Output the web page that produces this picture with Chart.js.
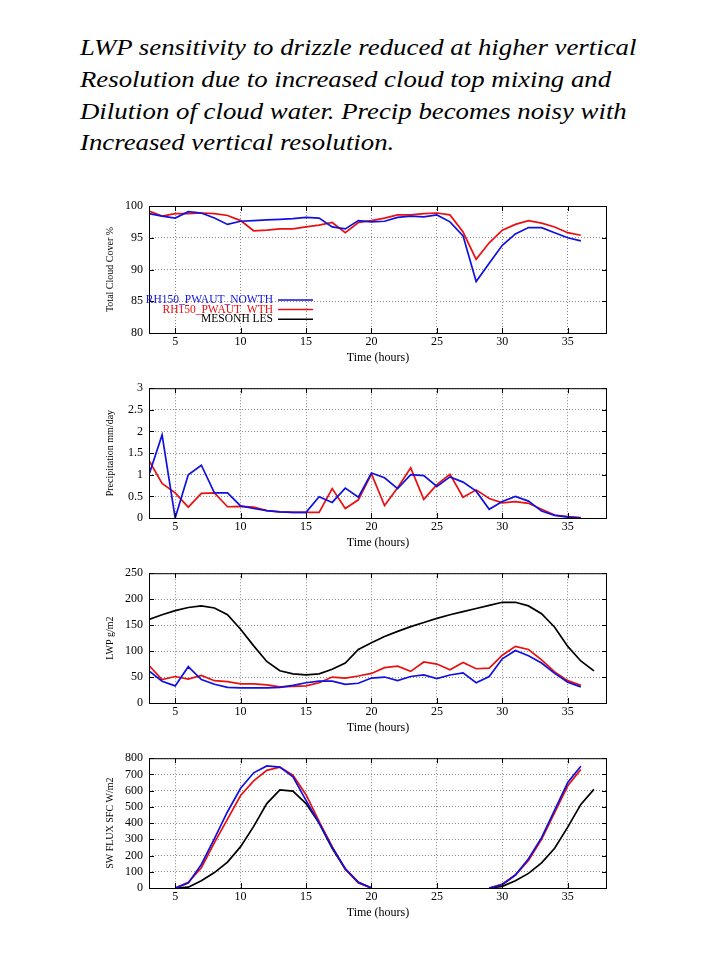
<!DOCTYPE html>
<html>
<head>
<meta charset="utf-8">
<script src="https://cdn.jsdelivr.net/npm/chart.js@4.4.1/dist/chart.umd.min.js"></script>
<style>
  body { margin: 0; background: #fff; width: 720px; height: 960px; position: relative; overflow: hidden; }
  #note { position: absolute; left: 80px; top: 32px; font: italic 23px "Liberation Serif", serif; line-height: 31.8px; color: #000; white-space: nowrap; transform: scaleX(1.165); transform-origin: 0 0; }
  canvas { position: absolute; left: 100px; }
</style>
</head>
<body>
<div id="note">LWP sensitivity to drizzle reduced at higher vertical<br>Resolution due to increased cloud top mixing and<br>Dilution of cloud water. Precip becomes noisy with<br>Increased vertical resolution.</div>
<canvas id="cloud" width="520" height="180" style="top:190px"></canvas>
<canvas id="precip" width="520" height="180" style="top:375px"></canvas>
<canvas id="lwp" width="520" height="180" style="top:560px"></canvas>
<canvas id="sw" width="520" height="180" style="top:745px"></canvas>
<script>
const hours = [3, 4, 5, 6, 7, 8, 9, 10, 11, 12, 13, 14, 15, 16, 17, 18, 19, 20, 21, 22, 23, 24, 25, 26, 27, 28, 29, 30, 31, 32, 33, 34, 35, 36];
const lesHours = [3, 4, 5, 6, 7, 8, 9, 10, 11, 12, 13, 14, 15, 16, 17, 18, 19, 20, 21, 22, 23, 24, 25, 26, 27, 28, 29, 30, 31, 32, 33, 34, 35, 36, 37];
const swHours = [5, 6, 7, 8, 9, 10, 11, 12, 13, 14, 15, 16, 17, 18, 19, 20, 21, 22, 23, 24, 25, 26, 27, 28, 29, 30, 31, 32, 33, 34, 35, 36, 37];
const timeTicks = [5, 10, 15, 20, 25, 30, 35];

const NAMES = ["RH150_PWAUT_NOWTH", "RH150_PWAUT_WTH", "MESONH LES"];

// total cloud cover %
const cloudNowth = [98.8, 98.4, 98.1, 99.1, 98.9, 98.1, 97.1, 97.6, 97.7, 97.8, 97.9, 98.0, 98.2, 98.1, 96.7, 96.4, 97.7, 97.5,
  97.6, 98.2, 98.4, 98.3, 98.6, 97.5, 95.3, 88.1, 91.0, 93.8, 95.6, 96.6, 96.6, 95.8, 95.0, 94.5];
const cloudWth = [99.2, 98.4, 98.8, 98.8, 98.9, 98.8, 98.5, 97.7, 96.1, 96.2, 96.4, 96.4, 96.7, 97.0, 97.4, 95.8, 97.4, 97.7,
  98.1, 98.6, 98.6, 98.8, 98.9, 98.6, 95.9, 91.6, 94.2, 96.2, 97.1, 97.7, 97.3, 96.7, 95.8, 95.4];
const cloudLes = [100, 100, 100, 100, 100, 100, 100, 100, 100, 100, 100, 100, 100, 100, 100, 100, 100, 100,
  100, 100, 100, 100, 100, 100, 100, 100, 100, 100, 100, 100, 100, 100, 100, 100, 100];

// precipitation mm/day
const precipNowth = [1.0, 1.92, 0.0, 1.0, 1.22, 0.58, 0.58, 0.28, 0.22, 0.17, 0.14, 0.13, 0.13, 0.49, 0.36, 0.69, 0.48, 1.04,
  0.93, 0.68, 1.0, 0.98, 0.73, 0.95, 0.83, 0.62, 0.2, 0.38, 0.5, 0.39, 0.16, 0.06, 0.02, 0.0];
const precipWth = [1.33, 0.8, 0.58, 0.25, 0.57, 0.58, 0.26, 0.27, 0.25, 0.17, 0.14, 0.13, 0.13, 0.13, 0.68, 0.22, 0.42, 1.02,
  0.29, 0.7, 1.16, 0.43, 0.77, 1.01, 0.48, 0.65, 0.45, 0.35, 0.38, 0.34, 0.2, 0.07, 0.03, 0.01];

// LWP g/m2
const lwpNowth = [62, 42, 33, 70, 45, 36, 30, 29, 29, 29, 30, 34, 39, 42, 42, 36, 38, 48,
  50, 43, 51, 54, 47, 54, 58, 39, 51, 85, 101, 91, 77, 57, 40, 31];
const lwpWth = [72, 45, 51, 46, 53, 43, 41, 37, 37, 35, 31, 32, 33, 39, 50, 48, 52, 57,
  68, 71, 61, 79, 75, 64, 78, 66, 67, 92, 109, 103, 83, 60, 43, 34];
const lwpLes = [161, 170, 178, 184, 187, 183, 170, 142, 110, 80, 62, 56, 54, 56, 65, 77, 103, 116,
  128, 138, 147, 155, 163, 170, 176, 182, 188, 194, 194, 187, 172, 146, 109, 81, 62];

// SW flux at surface W/m2 (null = no value plotted)
const swNowth = [0, 30, 145, 305, 470, 615, 710, 752, 745, 685, 540, 400, 250, 120, 35, 0,
  null, null, null, null, null, null, null, null, 0, 20, 80, 180, 310, 480, 650, 750, null];
const swWth = [0, 35, 125, 280, 425, 570, 660, 725, 745, 695, 575, 410, 255, 115, 30, 0,
  null, null, null, null, null, null, null, null, 0, 25, 80, 170, 300, 465, 630, 730, null];
const swLes = [0, 5, 45, 95, 160, 255, 380, 520, 605, 597, 520, 400, 245, 115, 35, 0,
  null, null, null, null, null, null, null, null, 0, 10, 45, 90, 155, 245, 375, 515, 608];

const BLUE = "#1010e0";
const RED = "#e81010";
const BLACK = "#000000";
const SERIF = "'Liberation Serif', 'DejaVu Serif', serif";

function points(xs, ys) {
  return xs.map((x, i) => ({ x: x, y: ys[i] }));
}

// gnuplot-like box with inward ticks
const frame = {
  id: "frame",
  afterDatasetsDraw(chart) {
    const { ctx, chartArea: a, scales: { x, y } } = chart;
    ctx.save();
    ctx.strokeStyle = "#000";
    ctx.lineWidth = 1;
    ctx.strokeRect(a.left + 0.5, a.top + 0.5, a.right - a.left - 1, a.bottom - a.top);
    ctx.beginPath();
    for (const t of x.ticks) {
      const px = Math.round(x.getPixelForValue(t.value)) + 0.5;
      ctx.moveTo(px, a.bottom); ctx.lineTo(px, a.bottom - 5);
      ctx.moveTo(px, a.top); ctx.lineTo(px, a.top + 5);
    }
    for (const t of y.ticks) {
      const py = Math.round(y.getPixelForValue(t.value)) + 0.5;
      ctx.moveTo(a.left, py); ctx.lineTo(a.left + 5, py);
      ctx.moveTo(a.right, py); ctx.lineTo(a.right - 5, py);
    }
    ctx.stroke();
    ctx.restore();
  }
};

// key inside the first panel: right-aligned label, sample line to its right
const sideKey = {
  id: "sideKey",
  afterDraw(chart) {
    const ctx = chart.ctx;
    ctx.save();
    ctx.font = "11.5px " + SERIF;
    ctx.textAlign = "right";
    ctx.textBaseline = "middle";
    chart.data.datasets.forEach((ds, i) => {
      const y = 110 + i * 9.6;
      ctx.fillStyle = ds.borderColor;
      ctx.fillText(ds.label, 173, y);
      ctx.strokeStyle = ds.borderColor;
      ctx.lineWidth = 1.5;
      ctx.beginPath();
      ctx.moveTo(178, y); ctx.lineTo(213, y);
      ctx.stroke();
    });
    ctx.restore();
  }
};

function drawPanel(id, opts) {
  const datasets = [];
  if (opts.nowth) datasets.push({ label: NAMES[0], data: points(opts.xs, opts.nowth), borderColor: BLUE });
  if (opts.wth) datasets.push({ label: NAMES[1], data: points(opts.xs, opts.wth), borderColor: RED });
  if (opts.les) datasets.push({ label: NAMES[2], data: points(opts.lesXs, opts.les), borderColor: BLACK });
  for (const ds of datasets) {
    ds.borderWidth = 1.7;
    ds.pointRadius = 0;
    ds.fill = false;
    ds.tension = 0;
    ds.spanGaps = false;
  }

  const tickFont = { family: SERIF, size: 12 };
  new Chart(document.getElementById(id).getContext("2d"), {
    type: "line",
    data: { datasets: datasets },
    options: {
      responsive: false,
      animation: false,
      events: [],
      layout: { padding: { top: opts.top, right: 13, bottom: 0, left: 0 } },
      scales: {
        x: {
          type: "linear",
          min: 3,
          max: 38,
          afterBuildTicks(scale) { scale.ticks = timeTicks.map(v => ({ value: v })); },
          afterFit(scale) { scale.height = 37; },
          grid: { color: "#8a8a8a", lineWidth: 1, drawTicks: false },
          border: { display: false, dash: [1, 2] },
          ticks: { color: "#000", font: tickFont, padding: 2, maxRotation: 0, autoSkip: false },
          title: { display: true, text: "Time (hours)", color: "#000", font: tickFont, padding: { top: 0, bottom: 5 } }
        },
        y: {
          min: opts.min,
          max: opts.max,
          afterBuildTicks(scale) { scale.ticks = opts.ticks.map(v => ({ value: v })); },
          afterFit(scale) { scale.width = 49; },
          grid: { color: "#8a8a8a", lineWidth: 1, drawTicks: false },
          border: { display: false, dash: [1, 2] },
          ticks: { color: "#000", font: tickFont, padding: 6, autoSkip: false, callback: v => String(v) },
          title: { display: true, text: opts.title, color: "#000", font: { family: SERIF, size: 10 }, padding: { top: 4, bottom: 0 } }
        }
      },
      plugins: { legend: { display: false }, tooltip: { enabled: false } }
    },
    plugins: opts.key ? [frame, sideKey] : [frame]
  });
}

drawPanel("cloud", {
  title: "Total Cloud Cover %", top: 16, min: 80, max: 100, ticks: [80, 85, 90, 95, 100],
  xs: hours, lesXs: lesHours, nowth: cloudNowth, wth: cloudWth, les: cloudLes, key: true
});
drawPanel("precip", {
  title: "Precipitation mm/day", top: 12, min: 0, max: 3, ticks: [0, 0.5, 1, 1.5, 2, 2.5, 3],
  xs: hours, nowth: precipNowth, wth: precipWth
});
drawPanel("lwp", {
  title: "LWP g/m2", top: 13, min: 0, max: 250, ticks: [0, 50, 100, 150, 200, 250],
  xs: hours, lesXs: lesHours, nowth: lwpNowth, wth: lwpWth, les: lwpLes
});
drawPanel("sw", {
  title: "SW FLUX SFC W/m2", top: 13, min: 0, max: 800, ticks: [0, 100, 200, 300, 400, 500, 600, 700, 800],
  xs: swHours, lesXs: swHours, nowth: swNowth, wth: swWth, les: swLes
});
</script>
</body>
</html>
